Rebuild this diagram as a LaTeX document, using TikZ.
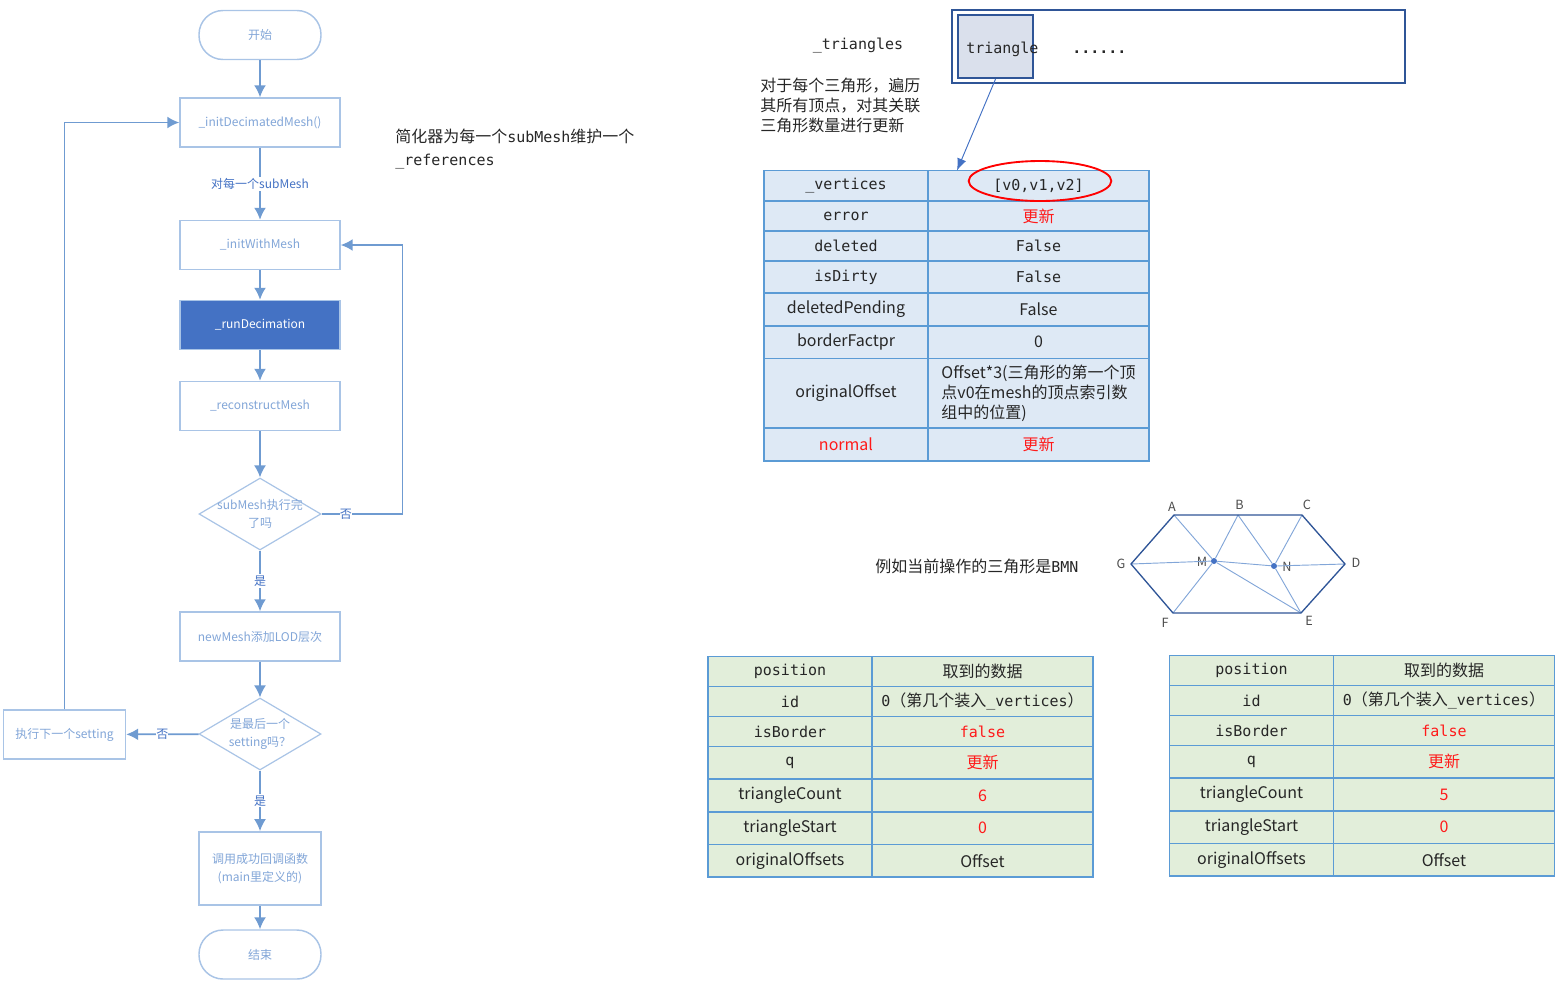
\documentclass[tikz,border=0pt]{standalone}
\usepackage{fontspec}
\setmainfont{Noto Sans CJK SC}
\setmonofont{DejaVu Sans Mono}
\usetikzlibrary{arrows.meta,shapes.geometric}
\definecolor{flowblue}{HTML}{6F9BD1}
\definecolor{flowedge}{HTML}{A9C4E6}
\definecolor{flowtext}{HTML}{82A6D8}
\definecolor{flowfill}{HTML}{4472C4}
\definecolor{navy}{HTML}{2F5597}
\definecolor{tiledge}{HTML}{5B9BD5}
\definecolor{bluecell}{HTML}{DEE9F5}
\definecolor{greencell}{HTML}{E2EEDA}
\definecolor{inktext}{HTML}{262626}
\definecolor{hot}{HTML}{FF1A1A}
\newcommand{\mo}[1]{{\ttfamily\fontsize{11.25}{15}\selectfont #1}}
\tikzset{
  every node/.style={font=\fontsize{12}{15}\selectfont,text=inktext,inner sep=0pt},
  flowbox/.style={draw=flowedge,line width=1.1pt,fill=white,minimum width=120pt,minimum height=36.75pt,
    text=flowtext,align=center,font=\fontsize{9}{13.5}\selectfont},
  flowend/.style={flowbox,rounded corners=18pt,minimum width=91.5pt},
  flowdec/.style={diamond,draw=flowedge,line width=.9pt,fill=white,minimum width=91.5pt,minimum height=54pt},
  flowtxt/.style={text=flowtext,align=center,font=\fontsize{9}{13}\selectfont},
  flowline/.style={draw=flowblue,line width=1.3pt,-{Latex[length=9pt,width=9pt]}},
  flowlab/.style={fill=white,text=flowfill,font=\fontsize{9}{12}\selectfont,inner ysep=1pt},
  cellblue/.style={draw=tiledge,line width=1.4pt,fill=bluecell},
  cellgreen/.style={draw=tiledge,line width=1.4pt,fill=greencell},
  thinedge/.style={draw=flowtext,line width=.7pt},
  hexedge/.style={draw=navy,line width=1pt},
  meshlab/.style={text=black!70,font=\fontsize{9.5}{12}\selectfont}
}
\begin{document}
\begin{tikzpicture}[x=0.75pt,y=-0.75pt]
  \useasboundingbox (0,0) rectangle (1557,983);
  % flow chart
  \node[flowend] (start) at (260,35) {开始};
  \node[flowbox] (initdec) at (260,122.5) {\_initDecimatedMesh()};
  \node[flowbox] (initwith) at (260,245) {\_initWithMesh};
  \node[flowbox,fill=flowfill,text=white] (rundec) at (260,325) {\_runDecimation};
  \node[flowbox] (recon) at (260,406) {\_reconstructMesh};
  \node[flowdec] (subdone) at (260,514) {};
  \node[flowtxt] (subtxt) at (260,514) {subMesh执行完\\了吗};
  \node[flowbox] (newmesh) at (260,636.5) {newMesh添加LOD层次};
  \node[flowdec] (lastset) at (260,734) {};
  \node[flowtxt] (lasttxt) at (260,734) {是最后一个\\setting吗？};
  \node[flowbox,minimum width=91.5pt] (nextset) at (64.5,734.5) {执行下一个setting};
  \node[flowbox,minimum width=91.5pt,minimum height=55pt] (callback) at (260,868.5) {调用成功回调函数\\(main里定义的)};
  \node[flowend] (finish) at (260,954.5) {结束};
  \coordinate (turn) at (402.5,514);

  \draw[flowline] (start) -- (initdec);
  \draw[flowline] (initdec) -- node[flowlab] (foreach) {对每一个subMesh} (initwith);
  \draw[flowline] (initwith) -- (rundec);
  \draw[flowline] (rundec) -- (recon);
  \draw[flowline] (recon) -- (subdone);
  \draw[flowline] (subdone) -- node[flowlab] (yesa) {是} (newmesh);
  \draw[flowline] (subdone) -- node[flowlab,pos=.3] (noa) {否} (turn) |- (initwith);
  \draw[flowline] (newmesh) -- (lastset);
  \draw[flowline] (lastset) -- node[flowlab,pos=.5] (nob) {否} (nextset);
  \draw[flowline] (lastset) -- node[flowlab] (yesb) {是} (callback);
  \draw[flowline] (nextset) |- (initdec);
  \draw[flowline] (callback) -- (finish);

  \node[anchor=west,align=left] (refnote) at (395,149) {简化器为每一个\mo{subMesh}维护一个\\[2.5pt]\mo{\_references}};

  % triangle array
  \node (trilab) at (858,46) {\mo{\_triangles}};
  \draw[navy,line width=1.5pt] (952,10) rectangle (1405,83);
  \node[draw=navy,line width=1.9pt,fill=navy!18!white,minimum width=56pt,minimum height=47pt] (tri) at (995.5,46.5) {};
  \node[anchor=west] (tritxt) at (966,49) {\mo{triangle}};
  \node[anchor=west] (dots) at (1072,52) {\mo{\textbf{......}}};
  \node[anchor=north west,align=left] (trinote) at (760,78) {对于每个三角形，遍历\\其所有顶点，对其关联\\三角形数量进行更新};

  % vertex table
  \foreach \a/\b/\k/\v/\c [count=\i] in {
    170.5/201/\mo{\_vertices}/\mo{[v0,v1,v2]}/inktext,
    201/231/\mo{error}/更新/hot,
    231/261/\mo{deleted}/\mo{False}/inktext,
    261/293/\mo{isDirty}/\mo{False}/inktext,
    293/326/deletedPending/False/inktext,
    326/358.5/borderFactpr/0/inktext,
    428/461/normal/更新/hot}
    {
      \ifnum\i=7 \def\kc{hot}\else\def\kc{inktext}\fi
      \draw[cellblue] (764,\a) rectangle (928,\b) node[pos=.5,text=\kc] (vk\i) {\k};
      \draw[cellblue] (928,\a) rectangle (1149,\b) node[pos=.5,text=\c] (vv\i) {\v};
    }
  \draw[cellblue] (764,358.5) rectangle (928,428) node[pos=.5] (vk8) {originalOffset};
  \draw[cellblue] (928,358.5) rectangle (1149,428) node[pos=.5,align=left] (vv8) {Offset*3(三角形的第一个顶\\点v0在mesh的顶点索引数\\组中的位置)};
  \node[ellipse,draw=red,line width=1.4pt,minimum width=107pt,minimum height=30pt] (circled) at (1040,181) {};
  \coordinate (hit) at (957,170.5);
  \draw[draw=flowfill,line width=.7pt,-{Latex[length=9pt,width=7pt]},fill=flowfill] (tri.south) -- (hit);

  % mesh sketch
  \node[anchor=west] (meshnote) at (875,566) {例如当前操作的三角形是\mo{BMN}};
  \foreach \n/\x/\y/\lx/\ly in {A/1174/515/1172/507,B/1238/515/1239.5/505,C/1302/515/1307/505,D/1345/564/1356/563,
    E/1301/613/1309/621,F/1173/613/1165/623,G/1131/564/1121/564}
    {
      \coordinate (\n) at (\x,\y);
      \node[meshlab] (lab\n) at (\lx,\ly) {\n};
    }
  \node[circle,fill=flowfill,minimum size=4.5pt] (M) at (1214,561) {};
  \node[circle,fill=flowfill,minimum size=4.5pt] (N) at (1274,566) {};
  \node[meshlab] (labM) at (1202,562) {M};
  \node[meshlab] (labN) at (1287,567) {N};
  \foreach \p/\q in {A/M,B/M,F/M,G/M,M/E,M/N,B/N,C/N,N/D,N/E}
    \draw[thinedge] (\p) -- (\q);
  \draw[hexedge] (A) -- (B) -- (C) -- (D) -- (E) -- (F) -- (G) -- cycle;

  % position tables
  \foreach \t/\dx/\dy/\n in {l/0/0/6,r/461.5/-1/5}
  {
    \begin{scope}[shift={(\dx,\dy)}]
      \foreach \a/\b/\k/\v/\c [count=\i] in {
        656.5/686.5/\mo{position}/取到的数据/inktext,
        686.5/716.5/\mo{id}/{\mo{0}（第几个装入\mo{\_vertices}）}/inktext,
        716.5/746.5/\mo{isBorder}/\mo{false}/hot,
        746.5/779/\mo{q}/更新/hot,
        779/812/triangleCount/\n/hot,
        812/844.5/triangleStart/0/hot,
        844.5/877/originalOffsets/Offset/inktext}
        {
          \draw[cellgreen] (708,\a) rectangle (872,\b) node[pos=.5] (\t k\i) {\k};
          \draw[cellgreen] (872,\a) rectangle (1093,\b) node[pos=.5,text=\c] (\t v\i) {\v};
        }
    \end{scope}
  }
\end{tikzpicture}
\end{document}
